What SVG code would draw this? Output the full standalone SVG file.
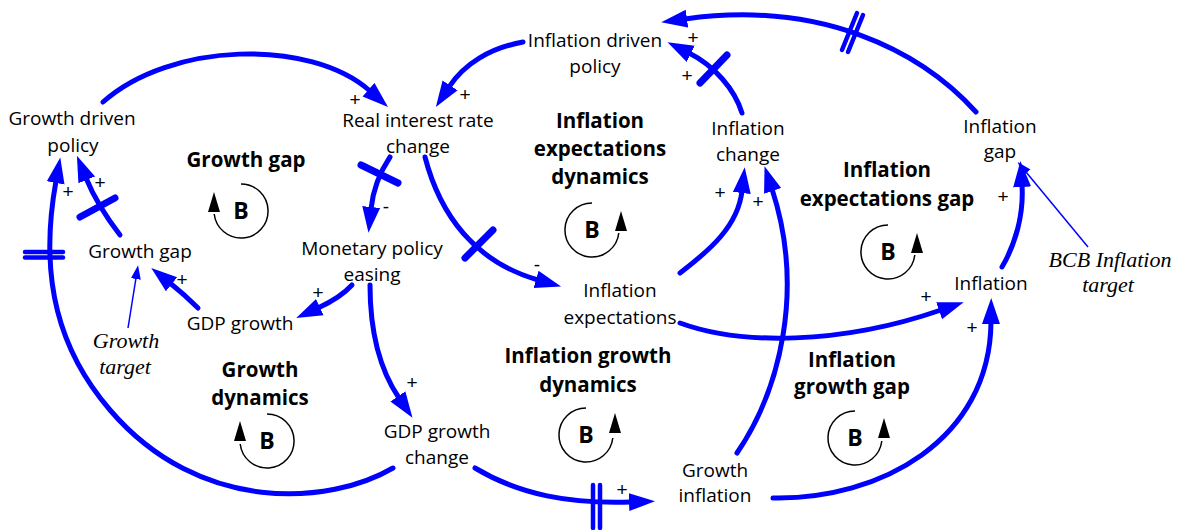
<svg xmlns="http://www.w3.org/2000/svg" width="1179" height="530" viewBox="0 0 1179 530">
<style>
.n{font-family:"Open Sans","Liberation Sans",sans-serif;font-size:19px;fill:#000;text-anchor:middle}
.l{font-family:"Open Sans","Liberation Sans",sans-serif;font-size:20.5px;font-weight:bold;fill:#000;text-anchor:middle}
.b{font-family:"Open Sans","Liberation Sans",sans-serif;font-size:23px;font-weight:bold;fill:#000;text-anchor:middle}
.t{font-family:"Liberation Serif",serif;font-size:22px;font-style:italic;fill:#000;text-anchor:middle}
.s{font-family:"Liberation Sans",sans-serif;font-size:19px;fill:#000;text-anchor:middle}
.c{fill:none;stroke:#0000FF;stroke-width:5;stroke-linecap:round;marker-end:url(#ah)}
.th{fill:none;stroke:#0000FF;stroke-width:1.5;marker-end:url(#ahs)}
.bar{stroke:#0000FF;stroke-width:7;stroke-linecap:round}
.dbar{stroke:#0000FF;stroke-width:4.5;stroke-linecap:round}
.lp{fill:none;stroke:#000;stroke-width:1.5}
.la{fill:#000}
</style>
<defs>
<marker id="ah" markerUnits="userSpaceOnUse" viewBox="0 -10 28 20" refX="2" refY="0" markerWidth="28" markerHeight="20" orient="auto">
<path d="M0,-9 L26,0 L0,9 z" fill="#0000FF"/>
</marker>
<marker id="ahs" markerUnits="userSpaceOnUse" viewBox="0 -6 16 12" refX="1" refY="0" markerWidth="16" markerHeight="12" orient="auto">
<path d="M0,-5 L14,0 L0,5 z" fill="#0000FF"/>
</marker>
</defs>

<g id="connectors">
<path class="c" d="M103,102 C170,42 310,38 370,91"/>
<path class="c" d="M523,42 C490,48 464,64 449,87"/>
<path class="c" d="M976,112 C920,50 820,0 685,19"/>
<line class="dbar" x1="842" y1="50" x2="857" y2="13"/>
<line class="dbar" x1="848" y1="52" x2="863" y2="15"/>
<path class="c" d="M742,113 C735,90 715,66 689,53"/>
<line class="bar" x1="700" y1="83" x2="727" y2="55"/>
<path class="c" d="M390,157 C380,172 373,190 371,209"/>
<line class="bar" x1="361" y1="165" x2="398" y2="183"/>
<path class="c" d="M425,157 C440,215 475,262 538,280"/>
<line class="bar" x1="465" y1="258" x2="493" y2="230"/>
<path class="c" d="M352,285 C342,296 331,302 318,308"/>
<path class="c" d="M370,285 C370,330 380,370 399,398"/>
<path class="c" d="M198,308 C190,300 180,291 170,283"/>
<path class="th" d="M128,328 L136,278"/>
<path class="c" d="M120,235 C110,222 95,200 86,178"/>
<line class="bar" x1="80" y1="217" x2="115" y2="198"/>
<path class="c" d="M393,468 C330,505 200,515 110,410 C60,352 38,280 56,181"/>
<line class="dbar" x1="25" y1="252" x2="63" y2="252"/>
<line class="dbar" x1="25" y1="257.5" x2="63" y2="257.5"/>
<path class="c" d="M475,468 C520,495 570,504 631,502"/>
<line class="dbar" x1="593" y1="485" x2="593" y2="528"/>
<line class="dbar" x1="600" y1="485" x2="600" y2="528"/>
<path class="c" d="M737,453 C780,390 805,290 772,189"/>
<path class="c" d="M773,498 C880,500 990,440 991,322"/>
<path class="c" d="M680,323 C740,345 840,345 941,310"/>
<path class="c" d="M680,273 C710,250 738,226 742,191"/>
<path class="c" d="M1002,267 C1015,245 1024,215 1022,185"/>
<path class="th" d="M1088,247 L1026,172"/>
<text class="s" x="355" y="106">+</text>
<text class="s" x="465" y="101">+</text>
<text class="s" x="693" y="44">+</text>
<text class="s" x="687" y="82">+</text>
<text class="s" x="386" y="213">-</text>
<text class="s" x="537" y="271">-</text>
<text class="s" x="318" y="299">+</text>
<text class="s" x="412" y="389">+</text>
<text class="s" x="182" y="286">+</text>
<text class="s" x="68" y="198">+</text>
<text class="s" x="100" y="189">+</text>
<text class="s" x="622" y="496">+</text>
<text class="s" x="758" y="208">+</text>
<text class="s" x="972" y="334">+</text>
<text class="s" x="926" y="303">+</text>
<text class="s" x="720" y="199">+</text>
<text class="s" x="1003" y="203">+</text>
</g>

<g id="growth-driven-policy"><text class="n" x="72" y="125">Growth driven</text><text class="n" x="73" y="152">policy</text></g>
<g id="real-interest-rate-change"><text class="n" x="418" y="127">Real interest rate</text><text class="n" x="418" y="153">change</text></g>
<g id="inflation-driven-policy"><text class="n" x="595" y="47">Inflation driven</text><text class="n" x="595" y="73">policy</text></g>
<g id="inflation-change"><text class="n" x="748" y="135">Inflation</text><text class="n" x="748" y="161">change</text></g>
<g id="inflation-gap"><text class="n" x="1000" y="133">Inflation</text><text class="n" x="1000" y="158">gap</text></g>
<g id="growth-gap"><text class="n" x="140" y="258">Growth gap</text></g>
<g id="monetary-policy-easing"><text class="n" x="372" y="255">Monetary policy</text><text class="n" x="372" y="281">easing</text></g>
<g id="gdp-growth"><text class="n" x="240" y="330">GDP growth</text></g>
<g id="inflation-expectations"><text class="n" x="620" y="297">Inflation</text><text class="n" x="620" y="324">expectations</text></g>
<g id="inflation"><text class="n" x="991" y="290">Inflation</text></g>
<g id="gdp-growth-change"><text class="n" x="437" y="438">GDP growth</text><text class="n" x="437" y="464">change</text></g>
<g id="growth-inflation"><text class="n" x="715" y="477">Growth</text><text class="n" x="715" y="502">inflation</text></g>
<g id="growth-target"><text class="t" x="126" y="348">Growth</text><text class="t" x="125" y="374">target</text></g>
<g id="bcb-inflation-target"><text class="t" x="1110" y="267">BCB Inflation</text><text class="t" x="1108" y="292">target</text></g>

<g id="loop-growth-gap">
<text class="l" x="246" y="167">Growth gap</text>
<path class="lp" d="M241,184 A27,27 0 1 1 214.2,214"/>
<polygon class="la" points="214,192 208,212 220,212"/>
<text class="b" x="241" y="219">B</text>
</g>
<g id="loop-inflation-expectations-dynamics">
<text class="l" x="600" y="128">Inflation</text><text class="l" x="600" y="156">expectations</text><text class="l" x="600" y="184">dynamics</text>
<path class="lp" d="M592,203 A27,27 0 1 0 618.8,233"/>
<polygon class="la" points="621,211 615,231 627,231"/>
<text class="b" x="592" y="238">B</text>
</g>
<g id="loop-inflation-expectations-gap">
<text class="l" x="887" y="177">Inflation</text><text class="l" x="887" y="206">expectations gap</text>
<path class="lp" d="M888,225 A27,27 0 1 0 914.8,255"/>
<polygon class="la" points="917,233 911,253 923,253"/>
<text class="b" x="888" y="260">B</text>
</g>
<g id="loop-growth-dynamics">
<text class="l" x="260" y="377">Growth</text><text class="l" x="260" y="405">dynamics</text>
<path class="lp" d="M267,414 A27,27 0 1 1 240.2,444"/>
<polygon class="la" points="240,421 234,441 246,441"/>
<text class="b" x="267" y="449">B</text>
</g>
<g id="loop-inflation-growth-dynamics">
<text class="l" x="588" y="363">Inflation growth</text><text class="l" x="588" y="392">dynamics</text>
<path class="lp" d="M586,408 A27,27 0 1 0 612.8,438"/>
<polygon class="la" points="615,413 609,433 621,433"/>
<text class="b" x="586" y="443">B</text>
</g>
<g id="loop-inflation-growth-gap">
<text class="l" x="852" y="367">Inflation</text><text class="l" x="852" y="394">growth gap</text>
<path class="lp" d="M855,411 A27,27 0 1 0 881.8,441"/>
<polygon class="la" points="884,418 878,438 890,438"/>
<text class="b" x="855" y="446">B</text>
</g>
</svg>
